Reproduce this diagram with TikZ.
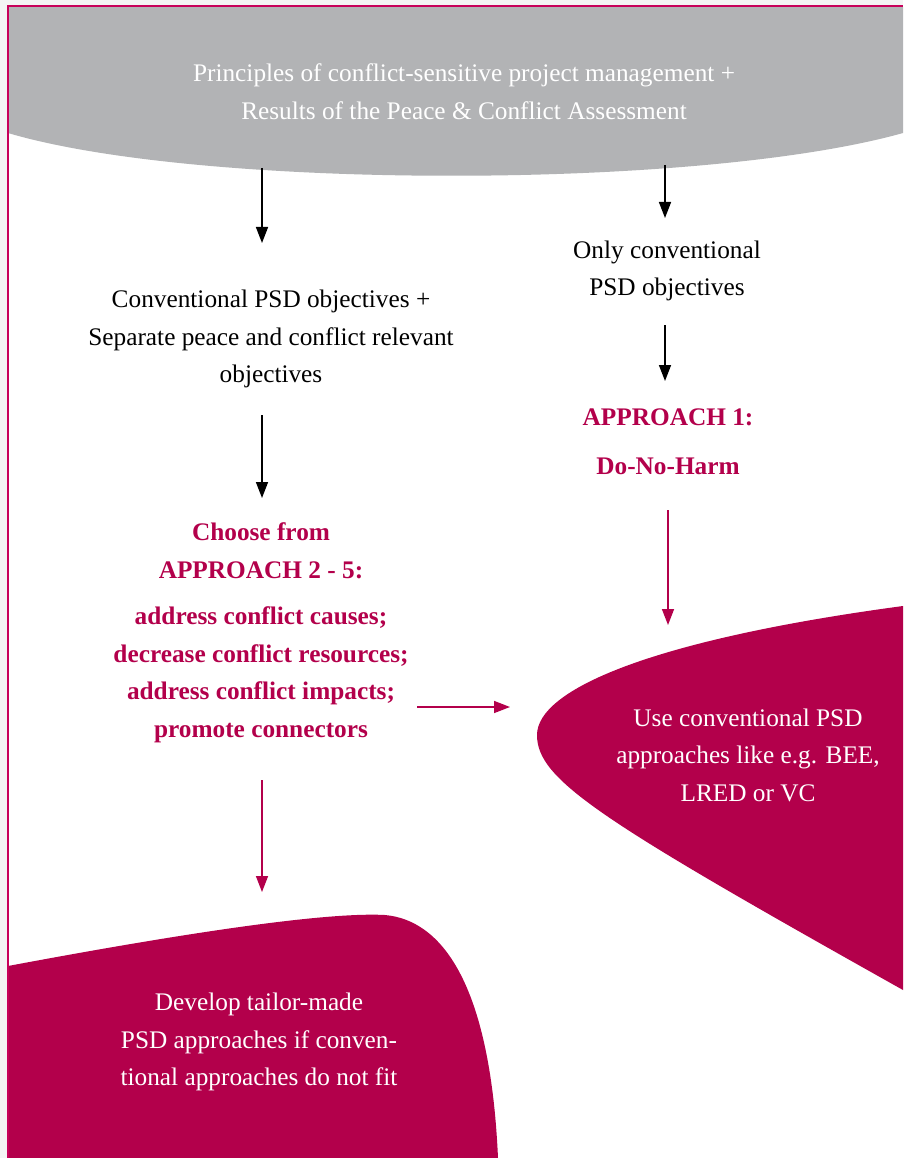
\documentclass[tikz,border=0pt]{standalone}
\usepackage{fontspec}
\setmainfont{Liberation Serif}
\usetikzlibrary{arrows.meta}
\definecolor{crimson}{HTML}{B3004B}
\definecolor{framecol}{HTML}{C8005A}
\definecolor{bannergray}{HTML}{B2B3B5}
\definecolor{margingray}{HTML}{F4F4F4}

\begin{document}
\begin{tikzpicture}[x=1pt,y=-1pt,
  txt/.style={align=center, inner sep=0pt, font=\fontsize{25.3}{37.5}\selectfont},
  plaintxt/.style={txt, text=black},
  keytxt/.style={txt, text=crimson, font=\fontsize{25.3}{37.5}\selectfont\bfseries},
  whitetxt/.style={txt, text=white},
  blackarrow/.style={draw=black, line width=1.5pt, -{Triangle[length=16pt,width=12pt]}},
  redarrow/.style={draw=crimson, line width=1.5pt, -{Triangle[length=16pt,width=12pt]}},
]
\useasboundingbox (0,0) rectangle (903,1158);
% page margin and white sheet
\fill[margingray] (0,0) rectangle (903,1158);
\fill[white] (8,7) rectangle (903,1158);
% grey header with curved lower edge
\fill[bannergray] (8,7) -- (8,133) .. controls (200,190) and (700,190) .. (903,133) -- (903,7) -- cycle;
% crimson blob on the right
\fill[crimson] (903,606) .. controls (650,640) and (537,690) .. (537,735)
  .. controls (537,780) and (600,820) .. (903,990) -- cycle;
% crimson blob at the bottom left
\fill[crimson] (8,966) .. controls (200,930) and (330,912) .. (385,915)
  .. controls (440,920) and (490,980) .. (498,1158) -- (8,1158) -- cycle;
% sheet frame
\draw[framecol, line width=1.5pt] (7.75,1158) -- (7.75,6) -- (903,6);

% texts
\node[whitetxt] (banner) at (464,91.5) {Principles of conflict-sensitive project management +\\Results of the Peace \& Conflict Assessment};
\node[plaintxt] (sep) at (271,339) {Conventional PSD objectives +\\Separate peace and conflict relevant\\objectives};
\node[plaintxt] (only) at (667,271) {Only conventional\\PSD objectives};
\node[keytxt] (choose) at (261,551) {Choose from\\APPROACH 2 - 5:};
\node[keytxt] (list) at (261,675) {address conflict causes;\\decrease conflict resources;\\address conflict impacts;\\promote connectors};
\node[keytxt] (appr1) at (668,417.5) {APPROACH 1:};
\node[keytxt] (dnh) at (668,466.5) {Do-No-Harm};
\node[whitetxt] (conv) at (748,755) {Use conventional PSD\\approaches like e.g. BEE,\\LRED or VC};
\node[whitetxt] (tailor) at (259,1042) {Develop tailor-made\\PSD approaches if conven-\\tional approaches do not fit};

% arrow end points
\coordinate (a1s) at (262,168); \coordinate (a1e) at (262,243);
\coordinate (a2s) at (665,165); \coordinate (a2e) at (665,218);
\coordinate (a3s) at (665,325); \coordinate (a3e) at (665,381);
\coordinate (a4s) at (262,415); \coordinate (a4e) at (262,498);
\coordinate (a5s) at (668,510); \coordinate (a5e) at (668,625);
\coordinate (a6s) at (417,707); \coordinate (a6e) at (510,707);
\coordinate (a7s) at (262,780); \coordinate (a7e) at (262,892);

% arrows
\draw[blackarrow] (a1s) -- (a1e);
\draw[blackarrow] (a2s) -- (a2e);
\draw[blackarrow] (a3s) -- (a3e);
\draw[blackarrow] (a4s) -- (a4e);
\draw[redarrow] (a5s) -- (a5e);
\draw[redarrow] (a6s) -- (a6e);
\draw[redarrow] (a7s) -- (a7e);
\end{tikzpicture}
\end{document}
